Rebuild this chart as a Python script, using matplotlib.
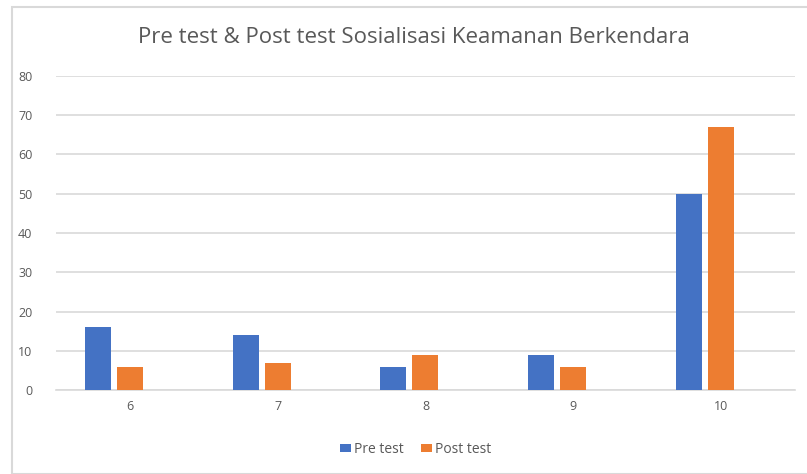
import numpy as np
import matplotlib.pyplot as plt
from matplotlib.patches import Rectangle

# Data
categories = ['6', '7', '8', '9', '10']
pre_test = [16, 14, 6, 9, 50]
post_test = [6, 7, 9, 6, 67]
yticks = np.arange(0, 90, 10)

blue = '#4472C4'
orange = '#ED7D31'
txt = '#595959'
grid = '#D9D9D9'

plt.rcParams['font.family'] = ['Open Sans', 'DejaVu Sans']

fig = plt.figure(figsize=(8.07, 4.74), dpi=100)
ax = fig.add_axes([0.0694, 0.177, 0.9156, 0.6633])

# outer chart frame
fig.patches.append(Rectangle((12 / 807, 0), 1.0, 1 - 7 / 474,
                             transform=fig.transFigure, fill=False,
                             edgecolor='#D9D9D9', linewidth=1.5))

x = np.arange(len(categories))
w = 0.176
step = 0.217
ax.bar(x - step, pre_test, w, color=blue, label='Pre test', zorder=3)
ax.bar(x, post_test, w, color=orange, label='Post test', zorder=3)

ax.set_xlim(-0.5, len(categories) - 0.5)
ax.set_ylim(0, 80)
ax.set_yticks(yticks)
ax.set_xticks(x)
ax.set_xticklabels(categories)
ax.yaxis.grid(True, color=grid, linewidth=1.2, zorder=0)
for s in ['top', 'right', 'left']:
    ax.spines[s].set_visible(False)
ax.spines['bottom'].set_color(grid)
ax.spines['bottom'].set_linewidth(1.2)
ax.tick_params(axis='both', length=0, labelsize=9, colors=txt, pad=7)
ax.tick_params(axis='y', pad=17)

fig.text(0.513, 0.92, 'Pre test & Post test Sosialisasi Keamanan Berkendara',
         ha='center', va='center', fontsize=16, color=txt)

leg = fig.legend(loc='center', bbox_to_anchor=(0.515, 0.052), ncol=2,
                 frameon=False, fontsize=10, handlelength=0.8,
                 handleheight=0.6, handletextpad=0.2, columnspacing=1.2)
for t in leg.get_texts():
    t.set_color(txt)

plt.savefig('out.png', dpi=100)
plt.close()
